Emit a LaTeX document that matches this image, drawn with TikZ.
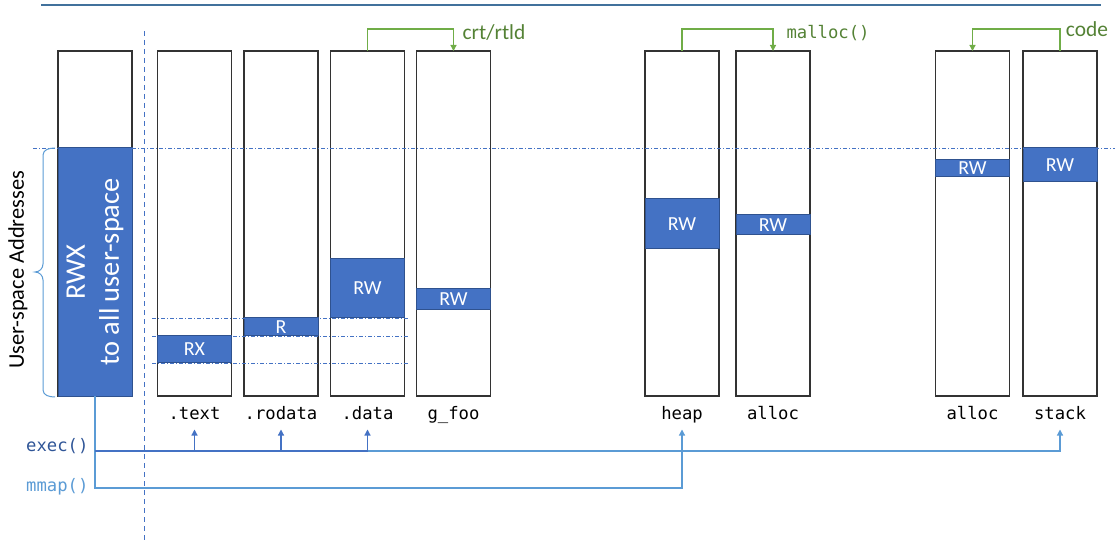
\documentclass[tikz,border=0pt]{standalone}
\usepackage{fontspec}
\setmainfont{Carlito}
\newfontfamily\codefont{DejaVu Sans Mono}
\usetikzlibrary{arrows.meta}
\definecolor{blk}{HTML}{4472C4}
\definecolor{blkedge}{HTML}{2F528F}
\definecolor{lblue}{HTML}{5B9BD5}
\definecolor{grn}{HTML}{70AD47}
\definecolor{grntext}{HTML}{548235}
\definecolor{topline}{HTML}{41719C}
\definecolor{execc}{HTML}{2F5597}
\tikzset{
  col/.style={draw=black!80, fill=white, line width=1.1bp, minimum width=74bp, minimum height=345bp, inner sep=0pt, outer sep=0pt},
  blkbox/.style={fill=blk, draw=blkedge, line width=1bp, minimum width=74bp, inner sep=0pt, outer sep=0pt, text=white, font=\fontsize{20}{24}\selectfont},
  lbl/.style={font=\codefont\fontsize{17.3}{20}\selectfont, text height=13bp, text depth=4bp, inner xsep=2bp, inner ysep=6bp, outer sep=0pt},
  tip/.style={-{Triangle[length=6bp,width=6bp]}},
  garrow/.style={draw=grn, line width=1.2bp, tip},
  dashdot/.style={draw=blk, line width=0.8bp, dash pattern=on 4bp off 2bp on 1bp off 2bp},
}
\begin{document}
\begin{tikzpicture}[x=1bp,y=-1bp]
\useasboundingbox (0,0) rectangle (1118,542);
% top rule
\draw[topline, line width=2.2bp] (41,5) -- (1101,5);
% columns
\node[col] (c1) at (95,223.5) {};
\node[col] (c2) at (194.5,223.5) {};
\node[col] (c3) at (281,223.5) {};
\node[col] (c4) at (367.5,223.5) {};
\node[col] (c5) at (453.5,223.5) {};
\node[col] (c6) at (682,223.5) {};
\node[col] (c7) at (773,223.5) {};
\node[col] (c8) at (972.5,223.5) {};
\node[col] (c9) at (1060,223.5) {};
% permission blocks
\node[blkbox, rotate=90, minimum width=248bp, minimum height=74bp,
      font=\fontsize{28.5}{34}\selectfont, align=center] (rwx) at (95,272) {RWX\\to all user-space};
\node[blkbox, minimum height=27bp] (b2) at (194.5,349.5) {RX};
\node[blkbox, minimum height=18bp] (b3) at (281,327) {R};
\node[blkbox, minimum height=59bp] (b4) at (367.5,288.5) {RW};
\node[blkbox, minimum height=21bp] (b5) at (453.5,299.5) {RW};
\node[blkbox, minimum height=50bp] (b6) at (682,224) {RW};
\node[blkbox, minimum height=20bp] (b7) at (773,225) {RW};
\node[blkbox, minimum height=17bp] (b8) at (972.5,168.5) {RW};
\node[blkbox, minimum height=34bp] (b9) at (1060,165) {RW};
% guide lines
\draw[dashdot] (33,148) -- (1115,148);
\draw[dashdot] (152,318) -- (410,318);
\draw[dashdot] (152,336) -- (410,336);
\draw[dashdot] (152,363) -- (410,363);
\draw[draw=blk, line width=1.2bp, dash pattern=on 5bp off 4bp] (144.5,31) -- (144.5,542);
% brace and axis label
\draw[lblue, line width=1bp] (55,148) to[out=180,in=90] (43,155) -- (43,264)
  to[out=-90,in=0] (35,272) to[out=0,in=90] (43,280) -- (43,390) to[out=-90,in=180] (55,397);
\node[rotate=90, font=\fontsize{22.5}{26}\selectfont] (ua) at (18,270) {User-space Addresses};
% labels below columns
\node[lbl] (l2) at (194.5,415) {.text};
\node[lbl] (l3) at (281,415) {.rodata};
\node[lbl] (l4) at (367.5,415) {.data};
\node[lbl] (l5) at (453.5,415) {g\_foo};
\node[lbl] (l6) at (682,415) {heap};
\node[lbl] (l7) at (773,415) {alloc};
\node[lbl] (l8) at (972.5,415) {alloc};
\node[lbl] (l9) at (1060,415) {stack};
% green annotations
\node[font=\fontsize{21.5}{25}\selectfont, text=grntext] (crt) at (494,33) {crt/rtld};
\node[font=\codefont\fontsize{17.3}{20}\selectfont, text=grntext] (mal) at (828,33) {malloc()};
\node[font=\fontsize{21.5}{25}\selectfont, text=grntext] (code) at (1087,29) {code};
\draw[garrow] (c4.north) -- ++(0,-22) -| (c5.north);
\draw[garrow] (c6.north) -- ++(0,-22) -| (c7.north);
\draw[garrow] (c9.north) -- ++(0,-22) -| (c8.north);
% exec / mmap
\coordinate (execrow) at (0,451);
\coordinate (mmaprow) at (0,488);
\node[font=\codefont\fontsize{17.3}{20}\selectfont, text=execc, anchor=east] (exec) at (92,446) {exec()};
\node[font=\codefont\fontsize{17.3}{20}\selectfont, text=lblue, anchor=east] (mmap) at (92,487) {mmap()};
\draw[lblue, line width=1.2bp, tip] (c1.south) |- (l6.south |- mmaprow) -- (l6.south);
\draw[lblue, line width=1.2bp, tip] (c1.south |- execrow) -| (l9.south);
\draw[blk, line width=1.4bp] (c1.south |- execrow) -- (l4.south |- execrow);
\draw[blk, line width=1.2bp, tip] (l2.south |- execrow) -- (l2.south);
\draw[blk, line width=1.2bp, tip] (l3.south |- execrow) -- (l3.south);
\draw[blk, line width=1.2bp, tip] (l4.south |- execrow) -- (l4.south);
\end{tikzpicture}
\end{document}
